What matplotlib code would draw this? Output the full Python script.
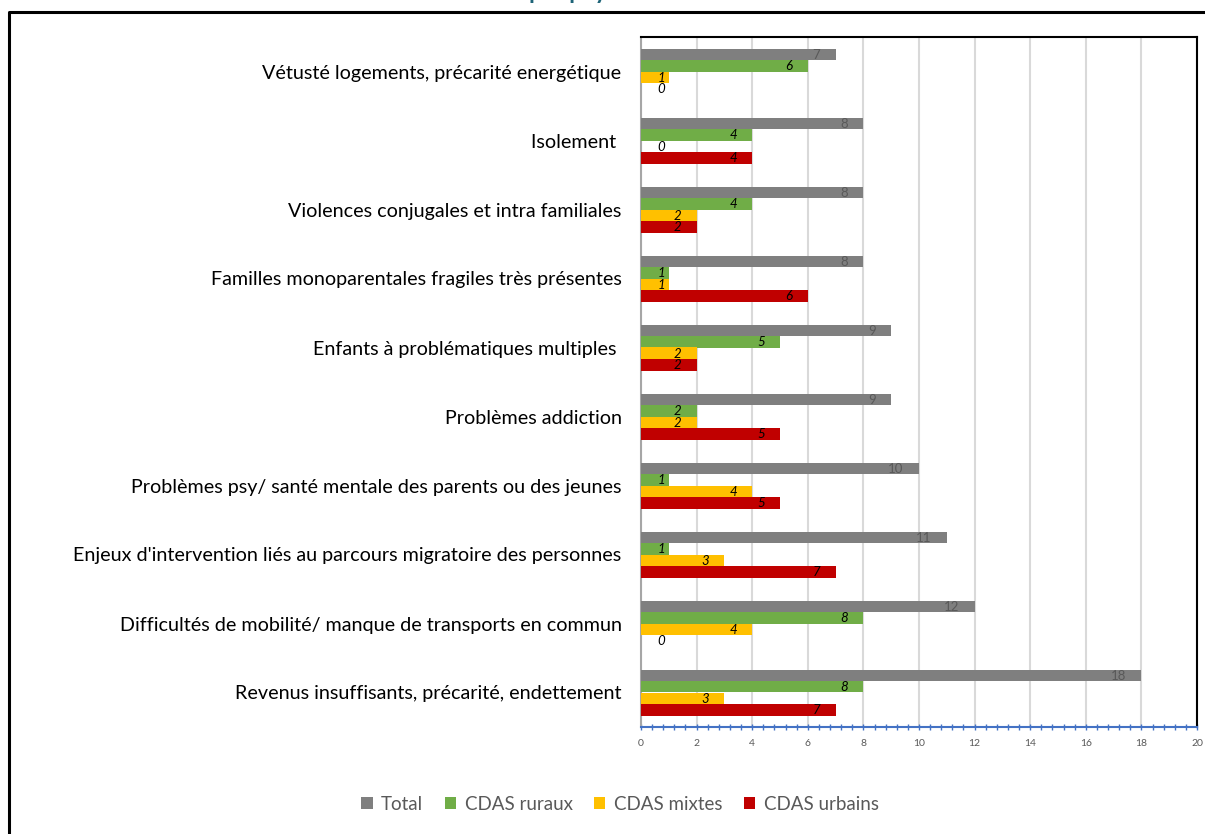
import matplotlib.pyplot as plt
from matplotlib.lines import Line2D
from matplotlib.ticker import MultipleLocator
import numpy as np

plt.rcParams['font.family'] = ['Lato', 'DejaVu Sans']

# categories, top to bottom
categories = [
    "Vétusté logements, précarité energétique",
    "Isolement ",
    "Violences conjugales et intra familiales",
    "Familles monoparentales fragiles très présentes",
    "Enfants à problématiques multiples ",
    "Problèmes addiction",
    "Problèmes psy/ santé mentale des parents ou des jeunes",
    "Enjeux d'intervention liés au parcours migratoire des personnes",
    "Difficultés de mobilité/ manque de transports en commun",
    "Revenus insuffisants, précarité, endettement",
]
total = [7, 8, 8, 8, 9, 9, 10, 11, 12, 18]
ruraux = [6, 4, 4, 1, 5, 2, 1, 1, 8, 8]
mixtes = [1, 0, 2, 1, 2, 2, 4, 3, 4, 3]
urbains = [0, 4, 2, 6, 2, 5, 5, 7, 0, 7]

series = [
    ("Total", total, "#7F7F7F", "#595959", "normal"),
    ("CDAS ruraux", ruraux, "#70AD47", "black", "italic"),
    ("CDAS mixtes", mixtes, "#FFC000", "black", "italic"),
    ("CDAS urbains", urbains, "#C00000", "black", "italic"),
]

fig = plt.figure(figsize=(12.05, 8.34), dpi=100)
ax = fig.add_axes([641 / 1205, 1 - 727 / 834, 556 / 1205, 690 / 834])

y = np.arange(len(categories))
h = 1 / 6
for k, (name, vals, col, tcol, style) in enumerate(series):
    pos = y - 1.5 * h + k * h
    ax.barh(pos, vals, height=h, color=col, linewidth=0, label=name, zorder=3)
    for p, v in zip(pos, vals):
        xr = max(v - 0.55, 0.86)
        ax.text(xr, p + 0.01, str(v), ha='right', va='center', fontsize=9.5,
                color=tcol, style=style, zorder=4)

ax.set_xlim(0, 20)
ax.set_ylim(len(categories) - 0.5, -0.5)
ax.set_yticks(y)
ax.set_yticklabels(categories, fontsize=14.2, color='black')
ax.tick_params(axis='y', length=0, pad=14)

ax.xaxis.set_major_locator(MultipleLocator(2))
ax.xaxis.set_minor_locator(MultipleLocator(0.4))
ax.tick_params(axis='x', which='both', direction='inout', length=5,
               color='#4472C4', width=1, labelsize=7.5, labelcolor='#595959', pad=6)
ax.grid(axis='x', color='#D9D9D9', linewidth=1.5, zorder=0)
ax.set_axisbelow(True)

ax.spines['bottom'].set_color('#4472C4')
ax.spines['bottom'].set_linewidth(1.5)
ax.spines['left'].set_color('#A6A6A6')
ax.spines['left'].set_linewidth(1.5)
ax.spines['top'].set_color('black')
ax.spines['top'].set_linewidth(1.5)
ax.spines['right'].set_color('black')
ax.spines['right'].set_linewidth(1.5)

fig.legend(loc='center', bbox_to_anchor=(620 / 1205, 1 - 804 / 834), ncol=4,
           frameon=False, fontsize=13.5, handlelength=0.6, handleheight=0.6,
           handletextpad=0.45, columnspacing=1.15, labelcolor='#595959')

# cut-off title at the top
fig.text(529 / 1205, 1 + 1 / 834, "par pays", fontsize=17, fontweight='bold',
         color='#1E6478', ha='left', va='baseline')

# outer frame (left and top edges)
fig.add_artist(Line2D([8.5 / 1205, 8.5 / 1205, 1.0], [0.0, 1 - 12 / 834, 1 - 12 / 834],
                      transform=fig.transFigure, color='black', linewidth=2.2))

fig.savefig("out.png", dpi=100)
